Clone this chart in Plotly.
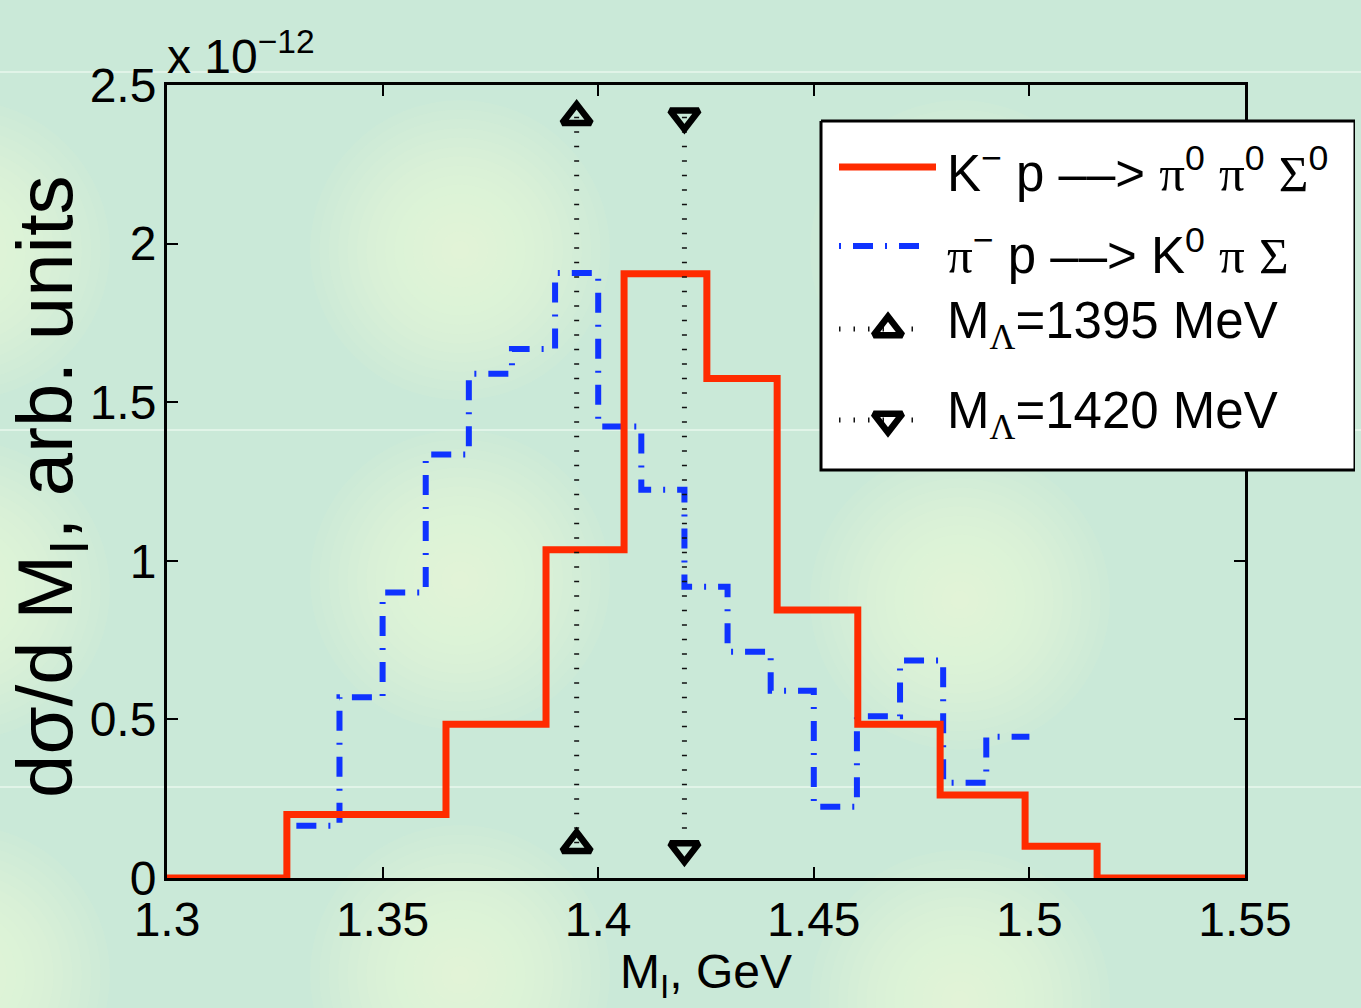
import plotly.graph_objects as go

# ---------------- data ----------------
red_edges = [1.3, 1.3278, 1.3647, 1.3879, 1.406, 1.4252, 1.4415, 1.4602, 1.4793, 1.499, 1.5157, 1.55]
red_vals = [0.0, 0.20, 0.485, 1.035, 1.905, 1.575, 0.845, 0.485, 0.262, 0.10, 0.0]

blue_edges = [1.33, 1.34, 1.35, 1.36, 1.37, 1.38, 1.39, 1.40, 1.41, 1.42,
              1.43, 1.44, 1.45, 1.46, 1.47, 1.48, 1.49, 1.50]
blue_vals = [0.165, 0.57, 0.90, 1.335, 1.59, 1.668, 1.907, 1.423, 1.224, 0.918,
             0.713, 0.59, 0.225, 0.51, 0.686, 0.30, 0.445]

m1395_x = [1.395, 1.395]
m1395_y = [2.40, 0.105]
m1420_x = [1.42, 1.42]
m1420_y = [2.40, 0.09]

x_ticks = [1.3, 1.35, 1.4, 1.45, 1.5, 1.55]
x_tick_text = ["1.3", "1.35", "1.4", "1.45", "1.5", "1.55"]
y_ticks = [0, 0.5, 1.0, 1.5, 2.0, 2.5]
y_tick_text = ["0", "0.5", "1", "1.5", "2", "2.5"]

SERIF = "<span style=\"font-family:Liberation Serif\">%s</span>"
leg_labels = [
    "K<sup>−</sup> p ––> " + SERIF % "π" + "<sup>0</sup> " + SERIF % "π" + "<sup>0</sup> " + SERIF % "Σ" + "<sup>0</sup>",
    SERIF % "π" + "<sup>−</sup> p ––> K<sup>0</sup> " + SERIF % "π" + " " + SERIF % "Σ",
    "M<sub>" + SERIF % "Λ" + "</sub>=1395 MeV",
    "M<sub>" + SERIF % "Λ" + "</sub>=1420 MeV",
]

# ---------------- layout geometry ----------------
W, H = 1361, 1008
ML, MR, MT, MB = 167, 6, 85, 130
PW = W - ML - MR
PH = H - MT - MB
AX_RIGHT = 1245


def P(px):
    return (px - ML) / PW


def Q(py):
    return (H - MB - py) / PH


RED = "#ff2b00"
BLUE = "#0f33ff"
FONT = "Liberation Sans"
BG = "rgb(202,233,216)"
BLUE_DASH = "20px,12px,2px,12px"
DOT_DASH = "1.5px,13px"
TRI_SIZE = 25
TRI_LW = 6.5

fig = go.Figure()

# main data
fig.add_trace(go.Scatter(x=blue_edges, y=blue_vals + [blue_vals[-1]], mode="lines",
                         line=dict(color=BLUE, width=6, shape="hv", dash=BLUE_DASH),
                         showlegend=False))
fig.add_trace(go.Scatter(x=red_edges, y=red_vals + [red_vals[-1]], mode="lines",
                         line=dict(color=RED, width=7, shape="hv"), showlegend=False))
fig.add_trace(go.Scatter(x=m1395_x, y=m1395_y, mode="lines+markers",
                         line=dict(color="#111", width=5, dash=DOT_DASH),
                         marker=dict(symbol="triangle-up-open", size=TRI_SIZE, color="black",
                                     line=dict(width=TRI_LW, color="black")),
                         showlegend=False, cliponaxis=False))
fig.add_trace(go.Scatter(x=m1420_x, y=m1420_y, mode="lines+markers",
                         line=dict(color="#111", width=5, dash=DOT_DASH),
                         marker=dict(symbol="triangle-down-open", size=TRI_SIZE, color="black",
                                     line=dict(width=TRI_LW, color="black")),
                         showlegend=False, cliponaxis=False))

# ---------------- hand-drawn legend on overlay axes ----------------
box_l, box_r, box_t, box_b = 821, 1355, 121, 470
fig.add_trace(go.Scatter(x=[P(box_l), P(box_r), P(box_r), P(box_l), P(box_l)],
                         y=[Q(box_t), Q(box_t), Q(box_b), Q(box_b), Q(box_t)],
                         mode="lines", fill="toself", fillcolor="white",
                         line=dict(color="black", width=3), xaxis="x2", yaxis="y2",
                         showlegend=False, hoverinfo="skip"))
row_y = [167, 246, 329, 420]
fig.add_trace(go.Scatter(x=[P(839), P(936)], y=[Q(row_y[0])] * 2, mode="lines",
                         line=dict(color=RED, width=7), xaxis="x2", yaxis="y2", showlegend=False))
fig.add_trace(go.Scatter(x=[P(839), P(930)], y=[Q(row_y[1])] * 2, mode="lines",
                         line=dict(color=BLUE, width=6, dash="2px,12px,20px,12px"),
                         xaxis="x2", yaxis="y2", showlegend=False))
for ry, sym in [(row_y[2], "triangle-up-open"), (row_y[3], "triangle-down-open")]:
    fig.add_trace(go.Scatter(x=[P(839), P(925)], y=[Q(ry)] * 2, mode="lines",
                             line=dict(color="#111", width=5, dash=DOT_DASH),
                             xaxis="x2", yaxis="y2", showlegend=False))
    fig.add_trace(go.Scatter(x=[P(888)], y=[Q(ry)], mode="markers",
                             marker=dict(symbol=sym, size=TRI_SIZE, color="black",
                                         line=dict(width=TRI_LW, color="black")),
                             xaxis="x2", yaxis="y2", showlegend=False))

annotations = []
text_y = [170, 252, 324, 414]
for lab, ty in zip(leg_labels, text_y):
    annotations.append(dict(x=P(945), y=Q(ty), xref="paper", yref="paper", text=lab,
                            showarrow=False, xanchor="left", yanchor="middle",
                            font=dict(family=FONT, size=51, color="black")))

# axis titles and exponent
annotations.append(dict(x=P(50), y=Q(487), xref="paper", yref="paper",
                        text="dσ/d M<sub>I</sub>, arb. units", textangle=-90,
                        showarrow=False, xanchor="center", yanchor="middle",
                        font=dict(family=FONT, size=78, color="black")))
annotations.append(dict(x=P(706), y=Q(975), xref="paper", yref="paper",
                        text="M<sub>I</sub>, GeV", showarrow=False,
                        xanchor="center", yanchor="middle",
                        font=dict(family=FONT, size=48, color="black")))
annotations.append(dict(x=P(165), y=Q(53), xref="paper", yref="paper",
                        text="x 10<sup>−12</sup>", showarrow=False,
                        xanchor="left", yanchor="middle",
                        font=dict(family=FONT, size=48, color="black")))

# ---------------- background decoration ----------------
shapes = []
for yy in [72, 430, 787]:
    shapes.append(dict(type="line", xref="paper", yref="paper", x0=P(0), x1=P(W),
                       y0=Q(yy), y1=Q(yy), line=dict(color="rgba(235,248,240,0.7)", width=2),
                       layer="below"))
blob_centers = [(-40, 250), (460, 250), (960, 250), (-40, 590), (460, 580), (960, 600),
                (-40, 975), (460, 975), (960, 1000)]
NSTEP = 16
for cx, cy in blob_centers:
    for k in range(NSTEP):
        r = 150 * (1 - k / NSTEP)
        shapes.append(dict(type="circle", xref="paper", yref="paper",
                           xsizemode="pixel", ysizemode="pixel",
                           xanchor=P(cx), yanchor=Q(cy), x0=-r, x1=r, y0=-r, y1=r,
                           fillcolor="rgba(246,249,214,0.075)", line=dict(width=0),
                           layer="below"))

axis_common = dict(showline=True, linecolor="black", linewidth=3, mirror="ticks",
                   ticks="inside", ticklen=11, tickwidth=2, tickcolor="black",
                   showgrid=False, zeroline=False, automargin=False,
                   tickfont=dict(family=FONT, size=48, color="black"))

fig.update_layout(
    width=W, height=H, autosize=False,
    margin=dict(l=ML, r=MR, t=MT, b=MB, autoexpand=False),
    paper_bgcolor=BG, plot_bgcolor="rgba(0,0,0,0)",
    showlegend=False,
    xaxis=dict(domain=[0, P(AX_RIGHT)], range=[1.3, 1.55], tickvals=x_ticks,
               ticktext=x_tick_text, ticklabelstandoff=-3, **axis_common),
    yaxis=dict(domain=[0, 1], range=[0, 2.5], tickvals=y_ticks, ticktext=y_tick_text,
               ticklabelstandoff=-2, **axis_common),
    xaxis2=dict(domain=[0, 1], range=[0, 1], anchor="y2", visible=False, fixedrange=True),
    yaxis2=dict(domain=[0, 1], range=[0, 1], anchor="x2", visible=False, fixedrange=True),
    annotations=annotations,
    shapes=shapes,
)

fig.write_html(
    "out.html",
    config={"responsive": False, "displayModeBar": False},
    post_script="document.body.style.margin='0';document.body.style.overflow='hidden';",
)
